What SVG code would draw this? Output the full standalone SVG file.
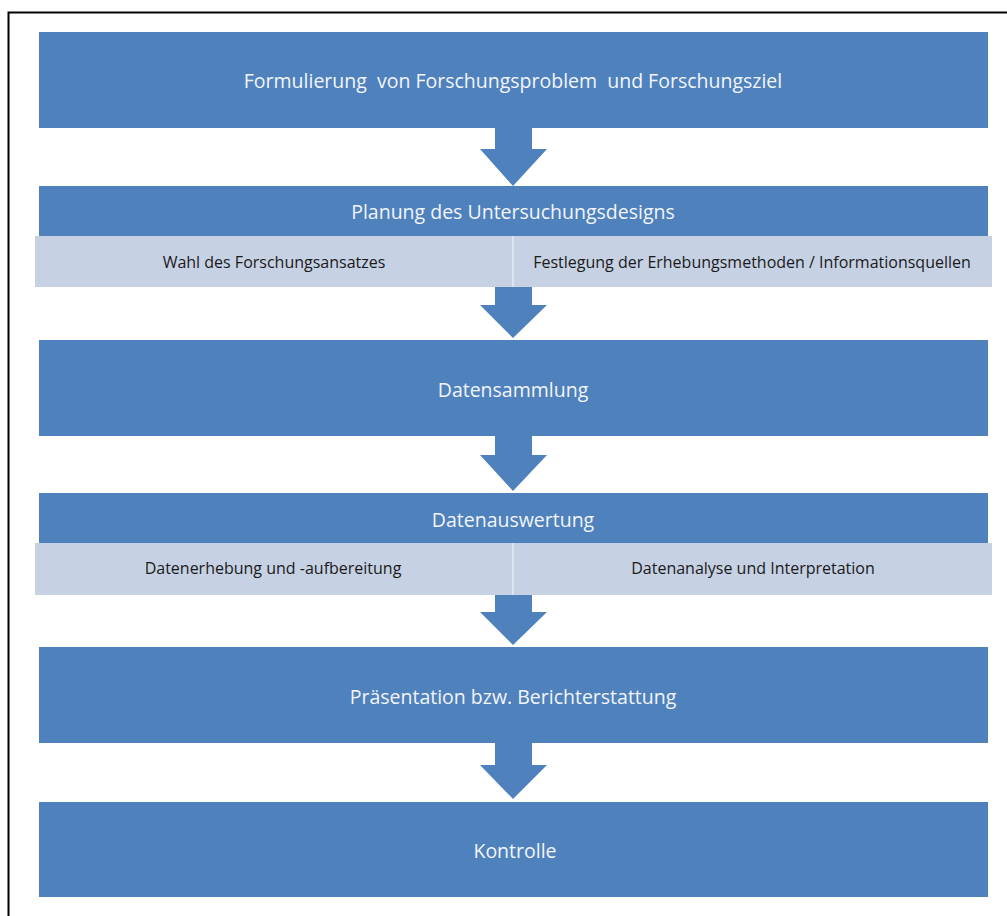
<svg xmlns="http://www.w3.org/2000/svg" width="1007" height="916" viewBox="0 0 1007 916">
<style>
.blk{fill:#4f81bd}
.sub{fill:#c6d1e4}
.sep{stroke:#dde4f0;stroke-width:2}
.h{font-family:"Open Sans",sans-serif;font-size:19.5px;fill:#f2f5fa;text-anchor:middle;dominant-baseline:central;white-space:pre}
.s{font-family:"Open Sans",sans-serif;font-size:16px;fill:#1a1a1a;text-anchor:middle;dominant-baseline:central}
.arr{fill:#4f81bd}
</style>
<rect width="1007" height="916" fill="#ffffff"/>
<path d="M8.5 916 V12.5 H1007" fill="none" stroke="#000" stroke-width="2"/>
<g id="n1">
<rect class="blk" x="39" y="32" width="949" height="96"/>
<text class="h" x="513" y="80" xml:space="preserve">Formulierung  von Forschungsproblem  und Forschungsziel</text>
</g>
<g id="n2">
<rect class="blk" x="39" y="186" width="949" height="50"/>
<text class="h" x="513" y="211">Planung des Untersuchungsdesigns</text>
<rect class="sub" x="35" y="236" width="957" height="51"/>
<line class="sep" x1="513" y1="236" x2="513" y2="287"/>
<text class="s" x="274" y="262">Wahl des Forschungsansatzes</text>
<text class="s" x="752" y="262">Festlegung der Erhebungsmethoden / Informationsquellen</text>
</g>
<g id="n3">
<rect class="blk" x="39" y="340" width="949" height="96"/>
<text class="h" x="513" y="389">Datensammlung</text>
</g>
<g id="n4">
<rect class="blk" x="39" y="493" width="949" height="50"/>
<text class="h" x="513" y="519">Datenauswertung</text>
<rect class="sub" x="35" y="543" width="957" height="52"/>
<line class="sep" x1="513" y1="543" x2="513" y2="595"/>
<text class="s" x="273" y="568">Datenerhebung und -aufbereitung</text>
<text class="s" x="753" y="568">Datenanalyse und Interpretation</text>
</g>
<g id="n5">
<rect class="blk" x="39" y="647" width="949" height="96"/>
<text class="h" x="513" y="696">Präsentation bzw. Berichterstattung</text>
</g>
<g id="n6">
<rect class="blk" x="39" y="802" width="949" height="95"/>
<text class="h" x="515" y="850">Kontrolle</text>
</g>
<g id="connectors">
<polygon class="arr" points="495,128 532,128 532,149 547,149 513,186 480,149 495,149"/>
<polygon class="arr" points="495,287 532,287 532,305 547,305 513,338 480,305 495,305"/>
<polygon class="arr" points="495,436 532,436 532,455 547,455 513,491 480,455 495,455"/>
<polygon class="arr" points="495,595 532,595 532,612 547,612 513,645 480,612 495,612"/>
<polygon class="arr" points="495,743 532,743 532,765 547,765 513,799 480,765 495,765"/>
</g>
</svg>
